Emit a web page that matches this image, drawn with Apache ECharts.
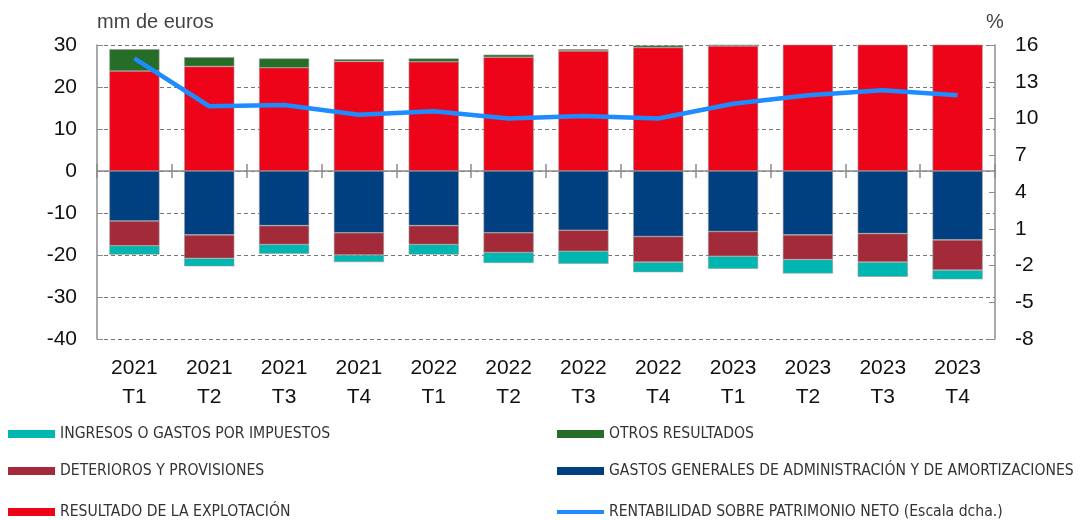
<!DOCTYPE html>
<html>
<head>
<meta charset="utf-8">
<script src="https://cdn.jsdelivr.net/npm/echarts@6/dist/echarts.min.js"></script>
<style>
  html, body { margin: 0; padding: 0; background: #fff; }
  #chart { width: 1082px; height: 520px; }
</style>
</head>
<body>
<div id="chart"></div>
<script>
// categorías (trimestres)
const quarters = ['2021\nT1', '2021\nT2', '2021\nT3', '2021\nT4', '2022\nT1', '2022\nT2',
                  '2022\nT3', '2022\nT4', '2023\nT1', '2023\nT2', '2023\nT3', '2023\nT4'];

// mm de euros
const resultadoExplotacion = [23.8, 24.9, 24.6, 26.1, 26.0, 27.1, 28.6, 29.4, 29.8, 30.4, 30.8, 31.0];
const otrosResultados      = [5.2, 2.2, 2.2, 0.5, 0.8, 0.6, 0.4, 0.5, 0.3, 0.2, 0.2, 0.2];
const gastosGenerales      = [-11.9, -15.2, -13.0, -14.7, -13.0, -14.7, -14.1, -15.6, -14.4, -15.2, -14.9, -16.4];
const deterioros           = [-5.9, -5.6, -4.5, -5.3, -4.5, -4.7, -5.0, -6.1, -5.9, -5.9, -6.8, -7.2];
const impuestos            = [-2.1, -1.9, -2.2, -1.7, -2.4, -2.5, -3.0, -2.4, -3.0, -3.3, -3.5, -2.2];

// % (escala dcha.)
const rentabilidad = [14.9, 11.0, 11.1, 10.3, 10.6, 10.0, 10.2, 10.0, 11.2, 11.9, 12.3, 11.9];

const names = {
  impuestos: 'INGRESOS O GASTOS POR IMPUESTOS',
  otros: 'OTROS RESULTADOS',
  deterioros: 'DETERIOROS Y PROVISIONES',
  gastos: 'GASTOS GENERALES DE ADMINISTRACIÓN Y DE AMORTIZACIONES',
  explotacion: 'RESULTADO DE LA EXPLOTACIÓN',
  rentabilidad: 'RENTABILIDAD SOBRE PATRIMONIO NETO (Escala dcha.)'
};

const colors = {
  explotacion: '#ee0418',
  otros: '#266d27',
  gastos: '#003f80',
  deterioros: '#a32a39',
  impuestos: '#00b6b0',
  rentabilidad: '#1e8cff'
};

const axisGrey = '#8c8c8c';
const font = 'Liberation Sans, Arial, sans-serif';
const narrowFont = '"Liberation Sans Narrow", "Arial Narrow", "DejaVu Sans Condensed", sans-serif';

const chart = echarts.init(document.getElementById('chart'));

const barSeries = (key, data) => ({
  name: names[key],
  type: 'bar',
  stack: 'total',
  barWidth: '67%',
  data: data,
  itemStyle: { color: colors[key], borderColor: '#9a9a9a', borderWidth: 0.6 },
  emphasis: { disabled: true }
});

// una leyenda por elemento para colocarlas como en el original
const legendItem = (key, left, top, isLine) => ({
  data: [names[key]],
  left: left,
  top: top,
  padding: 0,
  itemWidth: 47,
  itemHeight: isLine ? 4 : 8,
  icon: 'rect',
  itemStyle: { borderWidth: 0 },
  textStyle: { fontFamily: narrowFont, fontSize: 15.6, color: '#333' },
  selectedMode: false
});

const option = {
  animation: false,
  textStyle: { fontFamily: font },
  grid: { left: 97, right: 87, top: 45, height: 294 },
  legend: [
    legendItem('impuestos', 8, 426),
    legendItem('otros', 557, 426),
    legendItem('deterioros', 8, 463),
    legendItem('gastos', 557, 463),
    legendItem('explotacion', 8, 504),
    legendItem('rentabilidad', 557, 504, true)
  ],
  xAxis: [
    {
      // etiquetas abajo
      type: 'category',
      data: quarters,
      position: 'bottom',
      axisLine: { show: false, onZero: false },
      axisTick: { show: false },
      axisLabel: { fontSize: 21, color: '#111', lineHeight: 29, margin: 15 }
    },
    {
      // línea del cero con marcas hacia abajo
      type: 'category',
      data: quarters,
      axisLine: { onZero: true, onZeroAxisIndex: 0, lineStyle: { color: axisGrey, width: 1.5 } },
      axisTick: { show: true, length: 7, lineStyle: { color: axisGrey, width: 1.5 } },
      axisLabel: { show: false }
    },
    {
      // marcas hacia arriba
      type: 'category',
      data: quarters,
      axisLine: { show: false, onZero: true, onZeroAxisIndex: 0 },
      axisTick: { show: true, inside: true, length: 7, lineStyle: { color: axisGrey, width: 1.5 } },
      axisLabel: { show: false }
    }
  ],
  yAxis: [
    {
      type: 'value',
      min: -40,
      max: 30,
      interval: 10,
      name: 'mm de euros',
      nameLocation: 'end',
      nameGap: 13,
      nameTextStyle: { fontSize: 20, color: '#444', align: 'left', padding: [0, 0, 0, 0] },
      axisLine: { show: true, lineStyle: { color: axisGrey, width: 1.5 } },
      axisTick: { show: true, inside: true, length: 6, lineStyle: { color: axisGrey } },
      axisLabel: { fontSize: 21, color: '#111', margin: 20 },
      splitLine: { show: true, lineStyle: { color: '#777', type: [4, 3], width: 1 } }
    },
    {
      type: 'value',
      min: -8,
      max: 16,
      interval: 3,
      name: '%',
      nameLocation: 'end',
      nameGap: 13,
      nameTextStyle: { fontSize: 20, color: '#444', align: 'center' },
      position: 'right',
      axisLine: { show: true, lineStyle: { color: axisGrey, width: 1.5 } },
      axisTick: { show: true, inside: true, length: 6, lineStyle: { color: axisGrey } },
      axisLabel: { fontSize: 21, color: '#111', margin: 20 },
      splitLine: { show: false }
    }
  ],
  series: [
    barSeries('explotacion', resultadoExplotacion),
    barSeries('otros', otrosResultados),
    barSeries('gastos', gastosGenerales),
    barSeries('deterioros', deterioros),
    barSeries('impuestos', impuestos),
    {
      name: names.rentabilidad,
      type: 'line',
      yAxisIndex: 1,
      data: rentabilidad,
      symbol: 'none',
      z: 5,
      lineStyle: { color: colors.rentabilidad, width: 4.5 },
      itemStyle: { color: colors.rentabilidad },
      emphasis: { disabled: true }
    }
  ]
};

chart.setOption(option);
</script>
</body>
</html>
